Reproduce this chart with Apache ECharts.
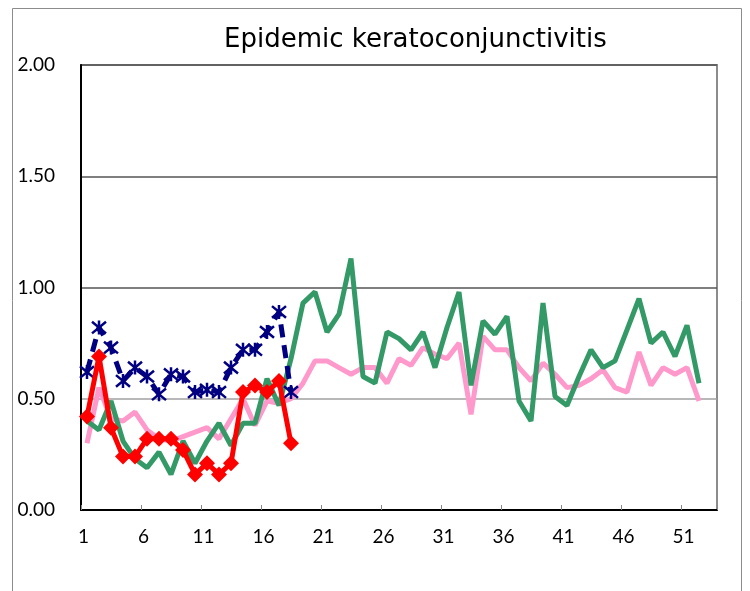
<!DOCTYPE html>
<html>
<head>
<meta charset="utf-8">
<script src="https://cdn.jsdelivr.net/npm/echarts@6/dist/echarts.min.js"></script>
<style>
  html, body { margin: 0; padding: 0; background: #fff; }
  #chart { width: 750px; height: 591px; }
</style>
</head>
<body>
<div id="chart"></div>
<script>
// weeks 1..53
const weeks = [];
for (let i = 1; i <= 53; i++) weeks.push(String(i));

// red diamonds, weeks 1-18
const redSeries = [0.42, 0.69, 0.37, 0.24, 0.24, 0.32, 0.32, 0.32, 0.27, 0.16,
  0.21, 0.16, 0.21, 0.53, 0.56, 0.53, 0.58, 0.30];

// navy dashed with star markers, weeks 1-18
const navySeries = [0.62, 0.82, 0.73, 0.58, 0.64, 0.60, 0.52, 0.61, 0.60, 0.53,
  0.54, 0.53, 0.64, 0.72, 0.72, 0.80, 0.89, 0.53];

// green, weeks 1-52
const greenSeries = [0.40, 0.36, 0.49, 0.31, 0.23, 0.19, 0.26, 0.16, 0.31, 0.21,
  0.31, 0.39, 0.29, 0.39, 0.39, 0.59, 0.47, 0.68, 0.93, 0.98,
  0.80, 0.88, 1.13, 0.60, 0.57, 0.80, 0.77, 0.72, 0.80, 0.64,
  0.82, 0.98, 0.56, 0.85, 0.79, 0.87, 0.49, 0.40, 0.93, 0.51,
  0.47, 0.60, 0.72, 0.64, 0.67, 0.81, 0.95, 0.75, 0.80, 0.69,
  0.83, 0.57];

// pink, weeks 1-52
const pinkSeries = [0.30, 0.55, 0.41, 0.40, 0.44, 0.36, 0.32, 0.31, 0.33, 0.35,
  0.37, 0.32, 0.41, 0.50, 0.38, 0.49, 0.48, 0.50, 0.57, 0.67,
  0.67, 0.64, 0.61, 0.64, 0.64, 0.57, 0.68, 0.65, 0.73, 0.70,
  0.68, 0.75, 0.43, 0.78, 0.72, 0.72, 0.64, 0.58, 0.66, 0.61,
  0.55, 0.56, 0.59, 0.63, 0.55, 0.53, 0.71, 0.56, 0.64, 0.61,
  0.64, 0.49];

const yTicks = [0, 0.5, 1, 1.5, 2];

const chart = echarts.init(document.getElementById('chart'), null, { renderer: 'canvas' });

const starPath = 'path://M0,0 L10,10 M10,0 L0,10 M5,-1 L5,11';

chart.setOption({
  animation: false,
  backgroundColor: '#fff',
  textStyle: { fontFamily: 'Lato' },
  title: {
    text: 'Epidemic keratoconjunctivitis',
    left: 219,
    top: 22,
    textStyle: { fontFamily: 'DejaVu Sans', fontSize: 26, fontWeight: 'normal', color: '#000' }
  },
  graphic: [{
    type: 'rect',
    shape: { x: 12.5, y: 8.5, width: 729, height: 620 },
    style: { fill: 'none', stroke: '#8c8c8c', lineWidth: 1 },
    silent: true
  }],
  grid: {
    left: 81, right: 33, top: 65, bottom: 81,
    show: true, borderColor: '#8c8c8c', borderWidth: 2
  },
  xAxis: {
    type: 'category',
    data: weeks,
    boundaryGap: true,
    axisLine: { lineStyle: { color: '#000', width: 2 } },
    axisTick: { show: true, inside: true, length: 5, interval: 4, lineStyle: { color: '#888' } },
    axisLabel: {
      interval: 4, margin: 17, fontSize: 19, color: '#000',
      padding: [0, 7, 0, 0]
    },
    splitLine: { show: false }
  },
  yAxis: {
    type: 'value',
    min: yTicks[0],
    max: yTicks[yTicks.length - 1],
    interval: 0.5,
    axisLine: { show: true, lineStyle: { color: '#000', width: 2 } },
    axisTick: { show: false },
    axisLabel: {
      fontSize: 19, color: '#000', margin: 26,
      formatter: v => v.toFixed(2)
    },
    splitLine: {
      show: true,
      lineStyle: { color: ['#555', '#a0a0a0', '#555', '#555', '#555'], width: 1.5 }
    }
  },
  series: [
    {
      name: 'pink', type: 'line', data: pinkSeries, z: 2,
      showSymbol: false, symbol: 'none',
      lineStyle: { color: '#ff99cc', width: 5 }
    },
    {
      name: 'green', type: 'line', data: greenSeries, z: 3,
      showSymbol: false, symbol: 'none',
      lineStyle: { color: '#339966', width: 5 }
    },
    {
      name: 'navy', type: 'line', data: navySeries, z: 4,
      symbol: starPath, symbolSize: 14, showAllSymbol: true,
      itemStyle: { color: '#000080', borderColor: '#000080', borderWidth: 2.5 },
      lineStyle: { color: '#000080', width: 5, type: [13, 8] }
    },
    {
      name: 'red', type: 'line', data: redSeries, z: 5,
      symbol: 'diamond', symbolSize: 16, showAllSymbol: true,
      itemStyle: { color: '#ff0000' },
      lineStyle: { color: '#ff0000', width: 5 }
    }
  ]
});
</script>
</body>
</html>
